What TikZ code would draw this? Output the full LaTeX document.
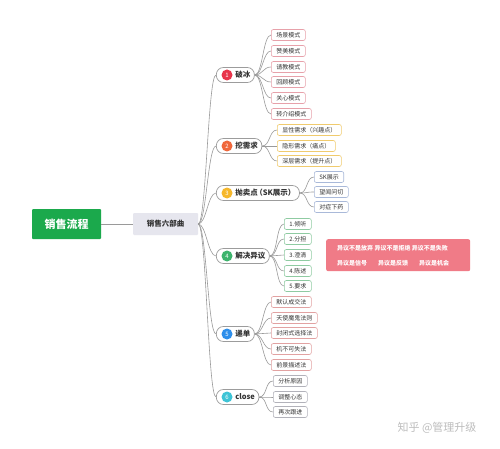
\documentclass[tikz,border=0pt]{standalone}
\usepackage{fontspec}
\setmainfont{Noto Sans CJK SC}
\definecolor{txt}{HTML}{333333}
\definecolor{linec}{HTML}{9A9A9A}
\definecolor{pillb}{HTML}{9C9C9C}
\definecolor{rootg}{HTML}{1BA94C}
\definecolor{subg}{HTML}{E6E6EE}
\definecolor{n1}{HTML}{E8334A}
\definecolor{n2}{HTML}{F0683C}
\definecolor{n3}{HTML}{F6B82C}
\definecolor{n4}{HTML}{3DB46D}
\definecolor{n5}{HTML}{2E8FEB}
\definecolor{n6}{HTML}{3EC4D6}
\definecolor{b1}{HTML}{E7A1AA}
\definecolor{b2}{HTML}{F0CB6E}
\definecolor{b3}{HTML}{A9B9D9}
\definecolor{b4}{HTML}{8FCBA2}
\definecolor{b5}{HTML}{E2A2A2}
\definecolor{b6}{HTML}{B2B2BA}
\definecolor{redbox}{HTML}{F07B87}
\definecolor{wm}{HTML}{BDBDBD}
\begin{document}
\begin{tikzpicture}[x=1pt,y=-1pt,
  mainpill/.style={draw=pillb, line width=0.7pt, fill=white, rounded corners=7pt,
    minimum height=15pt, inner xsep=4pt, inner ysep=0pt,
    font=\fontsize{7.5}{8}\selectfont\bfseries, text=txt, anchor=west},
  numdot/.style={circle, fill=#1, minimum size=11pt, inner sep=0pt, text=white,
    font=\fontsize{6}{6}\selectfont},
  leaf/.style={draw=#1, line width=0.6pt, fill=white, rounded corners=2pt,
    minimum height=11pt, inner xsep=5pt, inner ysep=0pt,
    font=\fontsize{6}{6}\selectfont, text=txt, anchor=west},
  conn/.style={draw=linec, line width=0.6pt,
    to path={.. controls ([xshift=8pt]\tikztostart) and ([xshift=-8pt]\tikztotarget) .. (\tikztotarget)}},
  rbtext/.style={font=\fontsize{6}{6}\selectfont\bfseries, text=white, anchor=west, inner sep=0pt}
]
\useasboundingbox[fill=white] (0,0) rectangle (500,449);

% root and sub-root
\node[fill=rootg, minimum width=69pt, minimum height=30pt, rounded corners=1pt,
  text=white, font=\fontsize{11}{12}\selectfont\bfseries] (root) at (66.5,224) {销售流程};
\node[fill=subg, minimum width=65pt, minimum height=22pt, rounded corners=1pt,
  text=txt, font=\fontsize{7.5}{8}\selectfont\bfseries] (sub) at (165.5,224) {销售六部曲};
\draw[draw=linec, line width=0.7pt] (root.east) -- (sub.west);

% main branches
\node[mainpill] (m1) at (216,75) {\hspace*{15pt}破冰};
\node[mainpill] (m2) at (216,146) {\hspace*{15pt}挖需求};
\node[mainpill] (m3) at (216,193) {\hspace*{15pt}抛卖点\hspace{-2.5pt}（SK展示）\hspace{-2.5pt}};
\node[mainpill] (m4) at (216,256) {\hspace*{15pt}解决异议};
\node[mainpill] (m5) at (216,334) {\hspace*{15pt}递单};
\node[mainpill] (m6) at (216,397) {\hspace*{15pt}close};
\node[numdot=n1] (d1) at ([xshift=11pt]m1.west) {1};
\node[numdot=n2] (d2) at ([xshift=11pt]m2.west) {2};
\node[numdot=n3] (d3) at ([xshift=11pt]m3.west) {3};
\node[numdot=n4] (d4) at ([xshift=11pt]m4.west) {4};
\node[numdot=n5] (d5) at ([xshift=11pt]m5.west) {5};
\node[numdot=n6] (d6) at ([xshift=11pt]m6.west) {6};
\foreach \i in {1,...,6} { \draw[conn] (sub.east) to (m\i.west); }

% leaves of 1
\foreach \t/\y [count=\i] in {场景模式/35, 赞美模式/51, 请教模式/67, 回顾模式/82, 关心模式/98, 转介绍模式/114} {
  \node[leaf=b1] (a\i) at (271,\y) {\t};
  \draw[conn] (m1.east) to (a\i.west);
}
% leaves of 2
\foreach \t/\y [count=\i] in {显性需求（兴趣点）/130, 隐形需求（痛点）/146, 深层需求（提升点）/161} {
  \node[leaf=b2] (b\i) at (277,\y) {\t};
  \draw[conn] (m2.east) to (b\i.west);
}
% leaves of 3
\foreach \t/\y [count=\i] in {SK展示/177, 望闻问切/192, 对症下药/207} {
  \node[leaf=b3] (c\i) at (314,\y) {\t};
  \draw[conn] (m3.east) to (c\i.west);
}
% leaves of 4
\foreach \t/\y [count=\i] in {1.倾听/224, 2.分担/239, 3.澄清/255, 4.陈述/271, 5.要求/286} {
  \node[leaf=b4] (e\i) at (284,\y) {\t};
  \draw[conn] (m4.east) to (e\i.west);
}
% leaves of 5
\foreach \t/\y [count=\i] in {默认成交法/302, 天使魔鬼法则/318, 封闭式选择法/333, 机不可失法/349, 前景描述法/365} {
  \node[leaf=b5] (f\i) at (271,\y) {\t};
  \draw[conn] (m5.east) to (f\i.west);
}
% leaves of 6
\foreach \t/\y [count=\i] in {分析原因/381, 调整心态/397, 再次跟进/412} {
  \node[leaf=b6] (g\i) at (273,\y) {\t};
  \draw[conn] (m6.east) to (g\i.west);
}

% red note box
\node[fill=redbox, rounded corners=2pt, minimum width=144pt, minimum height=32pt,
  anchor=north west, inner sep=0pt] (rb) at (326,239) {};
\node[rbtext] (r1) at (337,248) {异议不是放弃\ 异议不是拒绝\ 异议不是失败};
\node[rbtext] (r2) at (337,263) {异议是信号};
\node[rbtext] (r3) at (378,263) {异议是反馈};
\node[rbtext] (r4) at (419,263) {异议是机会};

% watermark
\node[text=wm, font=\fontsize{11}{12}\selectfont, inner sep=0pt] (wmk) at (437,428) {知乎 @管理升级};
\end{tikzpicture}
\end{document}
